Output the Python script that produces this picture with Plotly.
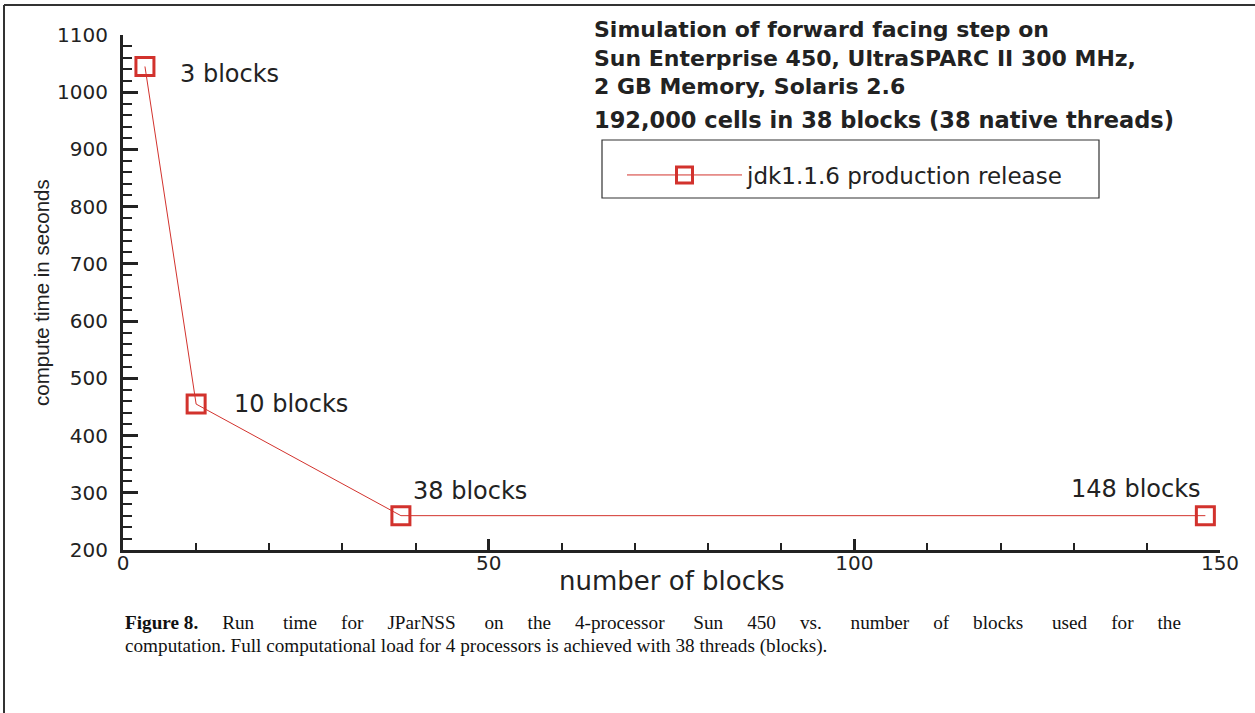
import plotly.graph_objects as go

# ---- data ----
blocks = [3, 10, 38, 148]
compute_time = [1045, 455, 260, 260]
point_labels = ["3 blocks", "10 blocks", "38 blocks", "148 blocks"]
series_name = "jdk1.1.6 production release"
title_lines = [
    "Simulation of forward facing step on",
    "Sun Enterprise 450, UltraSPARC II 300 MHz,",
    "2 GB Memory, Solaris 2.6",
]
subtitle = "192,000 cells in 38 blocks (38 native threads)"
caption_1_words = ["<b>Figure 8.</b>", "Run", "time", "for", "JParNSS", "on", "the",
                   "4-processor", "Sun", "450", "vs.", "number", "of", "blocks", "used", "for", "the"]
caption_2 = "computation. Full computational load for 4 processors is achieved with 38 threads (blocks)."
x_title = "number of blocks"
y_title = "compute time in seconds"

# ---- layout geometry (pixels) ----
W, H = 1255, 713
L, R, T, B = 123, 35, 35, 163
PW, PH = W - L - R, H - T - B

def px(x):
    return (x - L) / PW

def py(y):
    return (H - B - y) / PH

RED = "#d2322d"
INK = "#222222"
SANS = "DejaVu Sans"
SERIF = "Liberation Serif"

fig = go.Figure()
fig.add_trace(go.Scatter(
    x=blocks, y=compute_time, mode="lines+markers", name=series_name,
    line=dict(color=RED, width=1),
    marker=dict(symbol="square-open", size=18, color=RED, line=dict(width=3, color=RED)),
    cliponaxis=False,
))

annotations = []
shifts = [(33, -8, "left"), (36, 0, "left"), (10, 25, "left"), (-2, 27, "right")]
for xv, yv, lab, (dx, dy, anc) in zip(blocks, compute_time, point_labels, shifts):
    annotations.append(dict(x=xv, y=yv, xref="x", yref="y", text=lab, showarrow=False,
                            xanchor=anc, yanchor="middle", xshift=dx, yshift=dy,
                            font=dict(family=SANS, size=24, color=INK)))

annotations.append(dict(x=px(592), y=py(58.5), xref="paper", yref="paper",
                        text="<br>".join("<b>" + t + "</b>" for t in title_lines),
                        showarrow=False, xanchor="left", yanchor="middle", align="left",
                        font=dict(family=SANS, size=22, color=INK)))
annotations.append(dict(x=px(592), y=py(120), xref="paper", yref="paper", text="<b>" + subtitle + "</b>",
                        showarrow=False, xanchor="left", yanchor="middle",
                        font=dict(family=SANS, size=22.5, color=INK)))

annotations.append(dict(x=px(672), y=py(581), xref="paper", yref="paper", text=x_title,
                        showarrow=False, xanchor="center", yanchor="middle",
                        font=dict(family=SANS, size=26, color=INK)))
annotations.append(dict(x=px(41), y=py(293), xref="paper", yref="paper", text=y_title,
                        showarrow=False, xanchor="center", yanchor="middle", textangle=-90,
                        font=dict(family="Liberation Sans", size=20.5, color=INK)))

# justified first caption line: widen the word gaps
caption_1 = caption_1_words[0]
for i, w in enumerate(caption_1_words[1:]):
    n = 5 if i % 3 == 1 else 4
    caption_1 += " " + "\u00a0" * n + w
for txt, yc in zip([caption_1, caption_2], [622, 646]):
    annotations.append(dict(x=px(123), y=py(yc), xref="paper", yref="paper", text=txt,
                            showarrow=False, xanchor="left", yanchor="middle",
                            font=dict(family=SERIF, size=19.2, color="#111111")))

shapes = [
    dict(type="rect", xref="paper", yref="paper", x0=px(602), x1=px(1099), y0=py(140), y1=py(198),
         line=dict(color="#333333", width=1.2), fillcolor="rgba(0,0,0,0)"),
    dict(type="line", xref="paper", yref="paper", x0=px(4), x1=px(1255), y0=py(5), y1=py(5),
         line=dict(color="#333333", width=2)),
    dict(type="line", xref="paper", yref="paper", x0=px(4), x1=px(4), y0=py(5), y1=py(713),
         line=dict(color="#333333", width=2)),
]

fig.update_layout(
    width=W, height=H, margin=dict(l=L, r=R, t=T, b=B),
    paper_bgcolor="white", plot_bgcolor="white",
    showlegend=True,
    legend=dict(x=px(622), y=py(175), xanchor="left", yanchor="middle",
                bgcolor="rgba(0,0,0,0)", borderwidth=0, itemwidth=115,
                font=dict(family=SANS, size=23, color=INK)),
    annotations=annotations, shapes=shapes,
    xaxis=dict(range=[0, 150], dtick=50, tick0=0, showgrid=False, zeroline=False,
               showline=True, linewidth=3, linecolor=INK,
               ticks="inside", ticklen=11, tickwidth=3, tickcolor=INK,
               minor=dict(dtick=10, ticks="inside", ticklen=7, tickwidth=1.5, tickcolor=INK),
               tickfont=dict(family=SANS, size=20, color=INK), ticklabelstandoff=-7),
    yaxis=dict(range=[200, 1100], dtick=100, tick0=200, showgrid=False, zeroline=False,
               showline=True, linewidth=3, linecolor=INK,
               ticks="inside", ticklen=15, tickwidth=3, tickcolor=INK,
               minor=dict(dtick=20, ticks="inside", ticklen=9, tickwidth=1.5, tickcolor=INK),
               tickfont=dict(family=SANS, size=20, color=INK), ticklabelstandoff=8),
)

fig.write_html("out.html", config={"displayModeBar": False},
               post_script="document.body.style.margin='0';")
